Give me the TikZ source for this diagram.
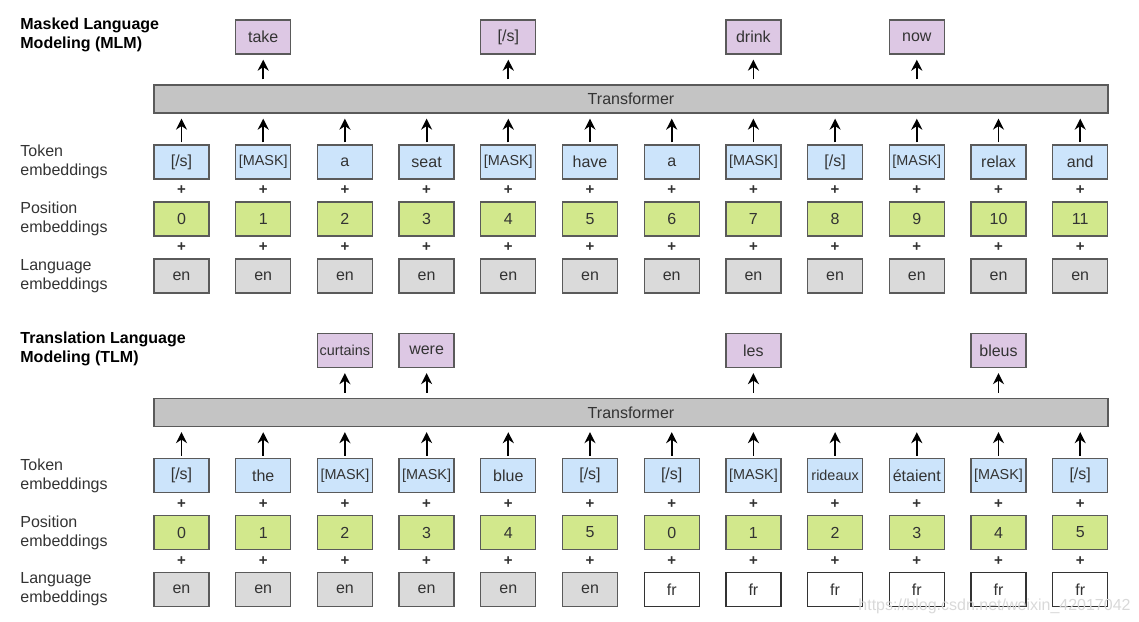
\documentclass[tikz,border=0pt]{standalone}
\usepackage{fontspec}
\setmainfont{Liberation Sans}
\usetikzlibrary{positioning,arrows.meta}
\definecolor{tokblue}{HTML}{CCE4FB}
\definecolor{posgreen}{HTML}{D2E88C}
\definecolor{langgray}{HTML}{DADADA}
\definecolor{outpurple}{HTML}{DDC8E4}
\definecolor{bargray}{HTML}{C4C4C4}
\definecolor{edge}{HTML}{5A5A5A}
\definecolor{txt}{HTML}{333333}
\newcommand{\tight}[1]{{\fontsize{7.2}{8}\selectfont #1}}
\newcommand{\masktok}{\tight{[MASK]}}
\newcommand{\eostok}{[/s]}
\tikzset{
  emb/.style={draw=edge, line width=0.65pt, minimum width=27.5pt, minimum height=17pt,
    inner sep=0pt, text=txt, font=\fontsize{8}{9.5}\selectfont},
  tokbox/.style={emb, fill=tokblue},
  posbox/.style={emb, fill=posgreen},
  lang-en/.style={emb, fill=langgray},
  lang-fr/.style={emb, fill=white, draw=txt},
  outbox/.style={emb, fill=outpurple},
  bar/.style={emb, fill=bargray, minimum width=477pt, minimum height=14pt},
  plus/.style={inner sep=0pt, text=txt, font=\bfseries\fontsize{7.5}{8}\selectfont},
  up/.style={-{Stealth[length=5.5pt,width=5.5pt]}, line width=0.9pt, shorten >=2.5pt},
  rowlabel/.style={anchor=west, align=left, inner sep=0pt, text=txt, font=\fontsize{8}{9.5}\selectfont},
  title/.style={rowlabel, text=black, font=\bfseries\fontsize{8}{9.5}\selectfont}
}
\begin{document}
\begin{tikzpicture}[x=0.5pt,y=-0.5pt]
\useasboundingbox (0,0) rectangle (1139,621);

% masked language modeling
\node[title] (mlm) at (20,35) {Masked Language\\Modeling (MLM)};
\node[rowlabel] (mtoklab) at (20,162) {Token\\embeddings};
\node[rowlabel] (mposlab) at (20,219) {Position\\embeddings};
\node[rowlabel] (mlanglab) at (20,276) {Language\\embeddings};
\node[bar] (mbar) at (631,99) {Transformer};
\foreach \w [count=\i from 0] in {\eostok,\masktok,a,seat,\masktok,have,a,\masktok,\eostok,\masktok,relax,and}{
  \node[tokbox] (mt\i) at (181.5+81.7*\i,162) {\w};
  \node[posbox] (mp\i) at (181.5+81.7*\i,219) {\i};
  \node[lang-en] (ml\i) at (181.5+81.7*\i,276) {en};
  \node[plus] (ma\i) at (181.5+81.7*\i,190.5) {+};
  \node[plus] (mb\i) at (181.5+81.7*\i,247.5) {+};
  \draw[up, shorten <=1pt] (mt\i.north) -- (mt\i.north |- mbar.south);
}
\foreach \w/\i in {take/1,\eostok/4,drink/7,now/9}{
  \node[outbox] (mo\i) at (181.5+81.7*\i,37) {\w};
  \draw[up, shorten <=2.5pt] (mo\i.south |- mbar.north) -- (mo\i.south);
}

% translation language modeling
\node[title] (tlm) at (20,348.5) {Translation Language\\Modeling (TLM)};
\node[rowlabel] (ttoklab) at (20,475.5) {Token\\embeddings};
\node[rowlabel] (tposlab) at (20,532.5) {Position\\embeddings};
\node[rowlabel] (tlanglab) at (20,589.5) {Language\\embeddings};
\node[bar] (tbar) at (631,412.5) {Transformer};
\foreach \w/\p/\l [count=\i from 0] in {\eostok/0/en,the/1/en,\masktok/2/en,\masktok/3/en,blue/4/en,\eostok/5/en,
    \eostok/0/fr,\masktok/1/fr,\tight{rideaux}/2/fr,étaient/3/fr,\masktok/4/fr,\eostok/5/fr}{
  \node[tokbox] (tt\i) at (181.5+81.7*\i,475.5) {\w};
  \node[posbox] (tp\i) at (181.5+81.7*\i,532.5) {\p};
  \node[lang-\l] (tl\i) at (181.5+81.7*\i,589.5) {\l};
  \node[plus] (ta\i) at (181.5+81.7*\i,504) {+};
  \node[plus] (tb\i) at (181.5+81.7*\i,561) {+};
  \draw[up, shorten <=1pt] (tt\i.north) -- (tt\i.north |- tbar.south);
}
\foreach \w/\i in {\tight{curtains}/2,were/3,les/7,bleus/10}{
  \node[outbox] (to\i) at (181.5+81.7*\i,350.5) {\w};
  \draw[up, shorten <=2.5pt] (to\i.south |- tbar.north) -- (to\i.south);
}

\node[anchor=east, inner sep=0pt, text=gray!30, font=\fontsize{8}{9.5}\selectfont] (wm) at (1131,606) {https://blog.csdn.net/weixin\_42017042};
\end{tikzpicture}
\end{document}
